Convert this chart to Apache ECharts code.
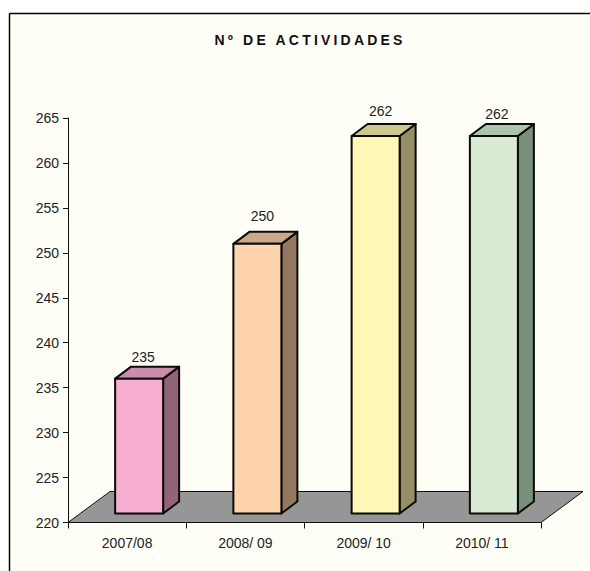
<!DOCTYPE html>
<html>
<head>
<meta charset="utf-8">
<script src="https://cdn.jsdelivr.net/npm/echarts@6/dist/echarts.min.js"></script>
<style>
html,body{margin:0;padding:0;background:#fff}
#c{width:590px;height:571px}
svg text[style*="bold"]{letter-spacing:3.2px}
</style>
</head>
<body>
<div id="c"></div>
<script>
const titleText = 'Nº DE ACTIVIDADES';
const categories = ['2007/08', '2008/ 09', '2009/ 10', '2010/ 11'];
const values = [235, 250, 262, 262];
const yTicks = {min: 220, max: 265, interval: 5};
const frontColors = ['#F7AFD1', '#FFD3AC', '#FFF7B5', '#D8E9D4'];
const topColors = ['#CC8CAC', '#CCA78A', '#CFC88E', '#ADC5AB'];
const sideColors = ['#936479', '#93785F', '#968F66', '#7A8F7A'];
const labelShift = [[4, -10], [5, -16], [5, -13], [3, -10]];

const depthX = 16, depthY = 12, barW = 48, barShift = 12, floorDrop = 9;
const textColor = '#222';
const font = 'Liberation Sans';

function renderBar(params, api) {
  const i = api.value(0);
  const top = api.coord([i, api.value(1)]);
  const base = api.coord([i, yTicks.min]);
  const x0 = top[0] + barShift - barW / 2, x1 = x0 + barW;
  const y0 = top[1] - floorDrop, y1 = base[1] - floorDrop;
  const stroke = {stroke: '#0a0a0a', lineWidth: 2, lineJoin: 'round'};
  return {type: 'group', children: [
    {type: 'polygon', shape: {points: [[x1, y0], [x1 + depthX, y0 - depthY], [x1 + depthX, y1 - depthY], [x1, y1]]},
      style: {fill: sideColors[i], ...stroke}},
    {type: 'polygon', shape: {points: [[x0, y0], [x0 + depthX, y0 - depthY], [x1 + depthX, y0 - depthY], [x1, y0]]},
      style: {fill: topColors[i], ...stroke}},
    {type: 'rect', shape: {x: x0, y: y0, width: barW, height: y1 - y0},
      style: {fill: frontColors[i], ...stroke}},
    {type: 'text', x: (x0 + x1) / 2 + labelShift[i][0], y: y0 - depthY + labelShift[i][1],
      style: {text: String(api.value(1)), fill: textColor, font: '14px "' + font + '"', textAlign: 'center', textVerticalAlign: 'middle'}}
  ]};
}

function renderFloor(params) {
  const s = params.coordSys;
  const b = s.y + s.height, dx = 42, dy = 31;
  return {type: 'polygon', shape: {points: [[s.x, b], [s.x + dx, b - dy], [s.x + s.width + dx, b - dy], [s.x + s.width, b]]},
    style: {fill: '#969696', stroke: '#111', lineWidth: 1}};
}

const chart = echarts.init(document.getElementById('c'), null, {renderer: 'svg'});
chart.setOption({
  animation: false,
  backgroundColor: '#fff',
  graphic: [
    {type: 'rect', z: -10, shape: {x: 9, y: 13, width: 581, height: 558}, style: {fill: '#FFFFF7'}},
    {type: 'line', z: -9, shape: {x1: 9.5, y1: 13.5, x2: 590, y2: 13.5}, style: {stroke: '#000', lineWidth: 1.5}},
    {type: 'line', z: -9, shape: {x1: 9.5, y1: 13.5, x2: 9.5, y2: 571}, style: {stroke: '#000', lineWidth: 1.5}}
  ],
  title: {
    text: titleText, left: 305, top: 28, textAlign: 'center',
    textStyle: {fontFamily: font, fontWeight: 'bold', fontSize: 14, color: '#111'}
  },
  grid: {left: 68, top: 118, width: 473, height: 404.5},
  xAxis: {
    type: 'category', data: categories,
    axisLine: {lineStyle: {color: '#111', width: 1}},
    axisTick: {show: true, length: 6, lineStyle: {color: '#111'}},
    axisLabel: {color: textColor, fontFamily: font, fontSize: 14, margin: 13}
  },
  yAxis: {
    type: 'value', min: yTicks.min, max: yTicks.max, interval: yTicks.interval,
    axisLine: {show: true, lineStyle: {color: '#111', width: 1}},
    axisTick: {show: true, length: 5, lineStyle: {color: '#111'}},
    axisLabel: {color: textColor, fontFamily: font, fontSize: 14, margin: 9},
    splitLine: {show: false}
  },
  series: [
    {type: 'custom', z: 1, renderItem: renderFloor, data: [[0, yTicks.min]], silent: true},
    {type: 'custom', z: 3, renderItem: renderBar, encode: {x: 0, y: 1}, data: values.map((v, i) => [i, v]), silent: true}
  ]
});
</script>
</body>
</html>
